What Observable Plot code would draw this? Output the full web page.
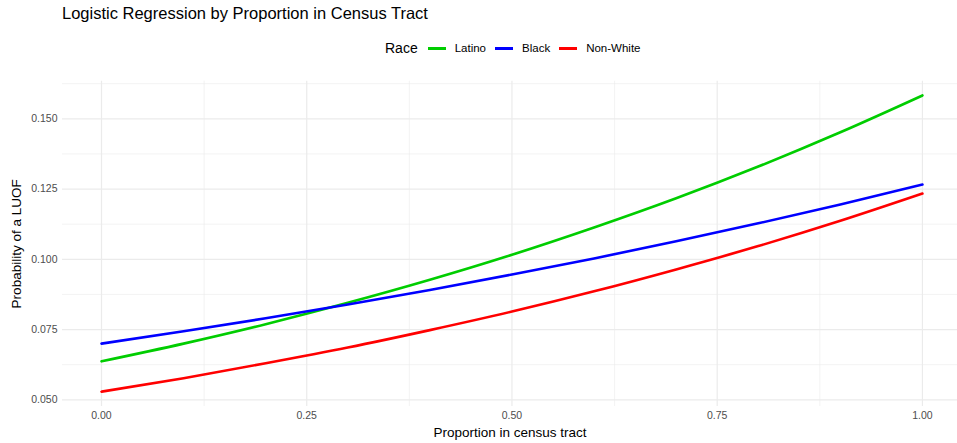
<!DOCTYPE html>
<html>
<head>
<meta charset="utf-8">
<script src="https://cdn.jsdelivr.net/npm/d3@7"></script>
<script src="https://cdn.jsdelivr.net/npm/@observablehq/plot@0.6"></script>
<style>
  body { margin: 0; background: #fff; font-family: "Liberation Sans", Arial, sans-serif; }
  #wrap { position: relative; width: 957px; height: 443px; overflow: hidden; }
  #title { position: absolute; left: 62px; top: 4px; font-size: 16.5px; color: #000; white-space: nowrap; }
  #legend { position: absolute; left: 385px; top: 39px; height: 18px; display: flex; align-items: center; white-space: nowrap; }
  #legend .ttl { font-size: 14px; margin-right: 10px; }
  #legend .key { width: 18px; height: 3px; margin-right: 9px; }
  #legend .lab { font-size: 11.5px; margin-right: 9px; }
  #chart { position: absolute; left: 0; top: 60px; }
</style>
</head>
<body>
<div id="wrap">
  <div id="title">Logistic Regression by Proportion in Census Tract</div>
  <div id="legend"></div>
  <div id="chart"></div>
</div>
<script>
const proportion = [0, 0.1, 0.2, 0.3, 0.4, 0.5, 0.6, 0.7, 0.8, 0.9, 1.0];
const latino   = [0.0637, 0.0700, 0.0769, 0.0845, 0.0927, 0.1016, 0.1113, 0.1217, 0.1330, 0.1452, 0.1583];
const black    = [0.0700, 0.0744, 0.0790, 0.0839, 0.0891, 0.0946, 0.1003, 0.1064, 0.1128, 0.1195, 0.1266];
const nonWhite = [0.0529, 0.0577, 0.0630, 0.0686, 0.0748, 0.0814, 0.0886, 0.0964, 0.1047, 0.1137, 0.1234];
const raceNames = ["Latino", "Black", "Non-White"];
const raceColors = ["#00CD00", "#0000FF", "#FF0000"];
const xTicks = [0, 0.25, 0.5, 0.75, 1.0];
const xMinor = [0.125, 0.375, 0.625, 0.875];
const yTicks = [0.050, 0.075, 0.100, 0.125, 0.150];
const yMinor = [0.0625, 0.0875, 0.1125, 0.1375, 0.1625];

const series = [latino, black, nonWhite];
const rows = [];
series.forEach((vals, i) => vals.forEach((v, j) => rows.push({race: raceNames[i], x: proportion[j], y: v})));

// legend
const leg = document.getElementById("legend");
leg.innerHTML = `<span class="ttl">Race</span>` + raceNames.map((n, i) =>
  `<span class="key" style="background:${raceColors[i]}"></span><span class="lab">${n}</span>`).join("");

const plot = Plot.plot({
  width: 957,
  height: 383,
  marginLeft: 62,
  marginRight: 0,
  marginTop: 20.7,
  marginBottom: 37,
  style: { fontFamily: "Liberation Sans, Arial, sans-serif", background: "#fff" },
  x: { domain: [-0.0475, 1.0427] },
  y: { domain: [0.04762, 0.16338] },
  color: { domain: raceNames, range: raceColors },
  marks: [
    Plot.ruleX(xMinor, { stroke: "#ebebeb", strokeWidth: 0.6 }),
    Plot.ruleY(yMinor, { stroke: "#ebebeb", strokeWidth: 0.6 }),
    Plot.ruleX(xTicks, { stroke: "#ebebeb", strokeWidth: 1.2 }),
    Plot.ruleY(yTicks, { stroke: "#ebebeb", strokeWidth: 1.2 }),
    Plot.axisX(xTicks, { tickSize: 0, tickPadding: 5, fontSize: 10.5, fill: "#4d4d4d",
      tickFormat: d3.format(".2f"), label: "Proportion in census tract", labelAnchor: "center", labelArrow: "none", labelOffset: 30 }),
    Plot.axisY(yTicks, { tickSize: 0, tickPadding: 5, fontSize: 10.5, fill: "#4d4d4d",
      tickFormat: d3.format(".3f"), label: "Probability of a LUOF", labelAnchor: "center", labelArrow: "none", labelOffset: 51 }),
    Plot.line(rows, { x: "x", y: "y", z: "race", stroke: "race", strokeWidth: 2.6, curve: "monotone-x" })
  ]
});
plot.querySelectorAll("g[aria-label='x-axis label'] text, g[aria-label='y-axis label'] text").forEach(t => {
  t.setAttribute("fill", "#000"); t.style.fontSize = "13.5px";
});
document.getElementById("chart").appendChild(plot);
</script>
</body>
</html>
